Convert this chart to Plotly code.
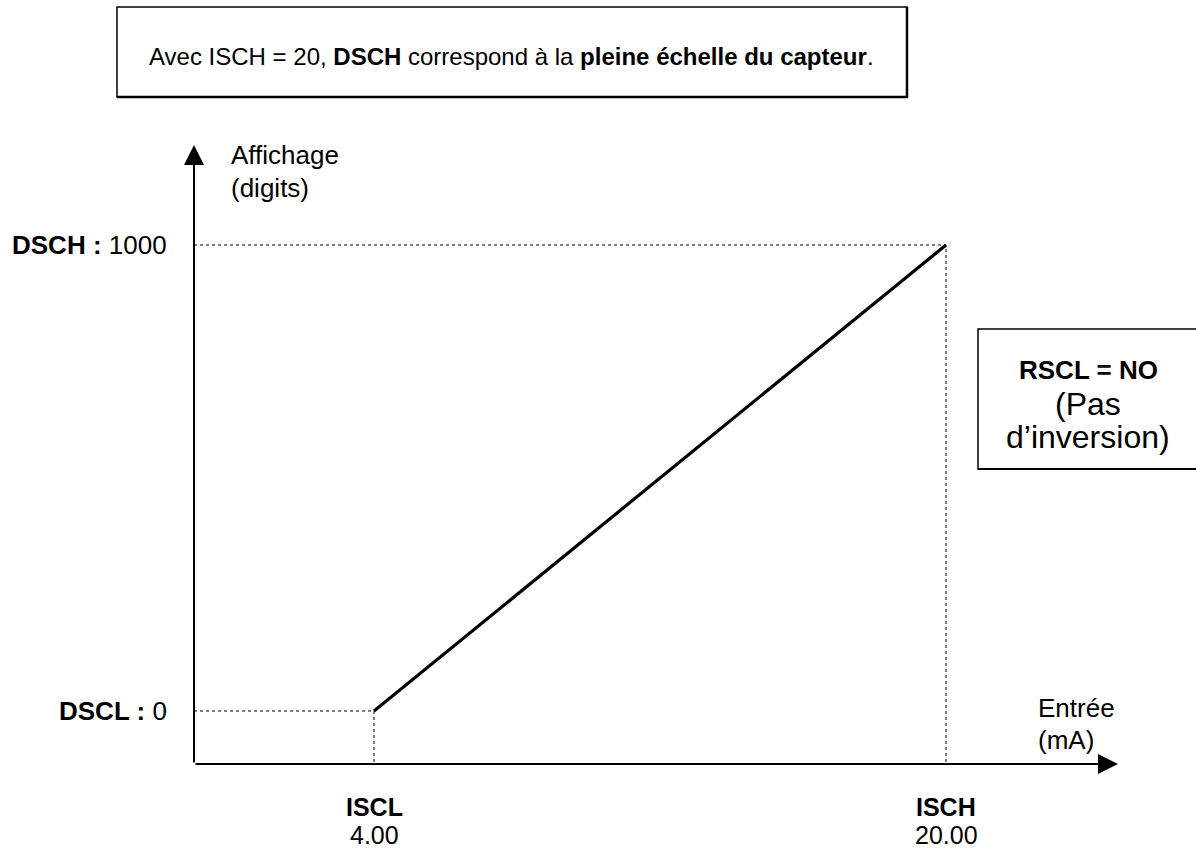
import plotly.graph_objects as go

# ---- data ----
input_ma = [4.00, 20.00]          # ISCL, ISCH (mA)
display_digits = [0, 1000]        # DSCL, DSCH (digits)
x_names = ["ISCL", "ISCH"]
x_values_txt = ["4.00", "20.00"]
y_names = ["DSCL", "DSCH"]
y_values_txt = ["0", "1000"]

W, H = 1196, 850
FONT = "Liberation Sans, Arial, sans-serif"

# pixel calibration of the data scale (plot area = whole figure)
PX_X4, PX_X20 = 374.0, 946.0
PX_Y0, PX_Y1000 = 711.0, 245.0
sx = (PX_X20 - PX_X4) / (input_ma[1] - input_ma[0])
sy = (PX_Y0 - PX_Y1000) / (display_digits[1] - display_digits[0])
x_range = [input_ma[0] - PX_X4 / sx, input_ma[0] + (W - PX_X4) / sx]
y_range = [display_digits[0] - (H - PX_Y0) / sy, display_digits[0] + PX_Y0 / sy]

def dx(px):
    return input_ma[0] + (px - PX_X4) / sx

def dy(py):
    return display_digits[0] + (PX_Y0 - py) / sy

def px(p):
    return p / W

def py(p):
    return 1 - p / H

x_orig, y_orig = dx(194), dy(764)
x_tip, y_tip = dx(1118), dy(145)

fig = go.Figure()

# dotted guides
for xv, yv in zip(input_ma, display_digits):
    fig.add_trace(go.Scatter(x=[x_orig, xv, xv], y=[yv, yv, y_orig], mode="lines",
                             line=dict(color="black", width=1, dash="dot"),
                             hoverinfo="skip", showlegend=False))

# transfer line
fig.add_trace(go.Scatter(x=input_ma, y=display_digits, mode="lines",
                         line=dict(color="black", width=3.2),
                         showlegend=False))

annotations = []
# axes with arrows
annotations.append(dict(x=x_orig, y=y_tip, ax=x_orig, ay=y_orig, xref="x", yref="y",
                        axref="x", ayref="y", showarrow=True, arrowhead=2, arrowsize=2,
                        arrowwidth=2, arrowcolor="black", text=""))
annotations.append(dict(x=x_tip, y=y_orig, ax=x_orig, ay=y_orig, xref="x", yref="y",
                        axref="x", ayref="y", showarrow=True, arrowhead=2, arrowsize=2,
                        arrowwidth=2, arrowcolor="black", text=""))

F = 26
# y labels
for name, txt, yv in zip(y_names, y_values_txt, display_digits):
    annotations.append(dict(x=px(169), y=yv, xref="paper", yref="y", xanchor="right",
                            yanchor="middle", showarrow=False,
                            text=f"<b>{name} :</b> {txt}",
                            font=dict(family=FONT, size=F, color="black")))
# x labels
for name, txt, xv in zip(x_names, x_values_txt, input_ma):
    annotations.append(dict(x=xv, y=py(807), xref="x", yref="paper", xanchor="center",
                            yanchor="middle", showarrow=False, text=f"<b>{name}</b>",
                            font=dict(family=FONT, size=25, color="black")))
    annotations.append(dict(x=xv, y=py(835), xref="x", yref="paper", xanchor="center",
                            yanchor="middle", showarrow=False, text=txt,
                            font=dict(family=FONT, size=25, color="black")))

# axis titles
for t, xx, yy in [("Affichage", 229, 155), ("(digits)", 229, 188),
                  ("Entrée", 1036, 708), ("(mA)", 1036, 740)]:
    annotations.append(dict(x=px(xx), y=py(yy), xref="paper", yref="paper", xanchor="left",
                            yanchor="middle", showarrow=False, text=t,
                            font=dict(family=FONT, size=F, color="black")))

# header box text
annotations.append(dict(x=px(511), y=py(57), xref="paper", yref="paper", xanchor="center",
                        yanchor="middle", showarrow=False,
                        text="Avec ISCH = 20, <b>DSCH</b> correspond à la <b>pleine échelle du capteur</b>.",
                        font=dict(family=FONT, size=24, color="black")))

# RSCL box text
annotations.append(dict(x=px(1088), y=py(370), xref="paper", yref="paper", xanchor="center",
                        yanchor="middle", showarrow=False, text="<b>RSCL = NO</b>",
                        font=dict(family=FONT, size=F, color="black")))
annotations.append(dict(x=px(1088), y=py(404), xref="paper", yref="paper", xanchor="center",
                        yanchor="middle", showarrow=False, text="(Pas",
                        font=dict(family=FONT, size=32, color="black")))
annotations.append(dict(x=px(1088), y=py(437), xref="paper", yref="paper", xanchor="center",
                        yanchor="middle", showarrow=False, text="d’inversion)",
                        font=dict(family=FONT, size=32, color="black")))

shapes = [
    dict(type="rect", xref="paper", yref="paper", x0=px(117), x1=px(907), y0=py(97), y1=py(7),
         line=dict(color="black", width=1.5)),
    dict(type="line", xref="paper", yref="paper", x0=px(117), x1=px(908), y0=py(97), y1=py(97),
         line=dict(color="black", width=2.5)),
    dict(type="line", xref="paper", yref="paper", x0=px(907), x1=px(907), y0=py(97), y1=py(7),
         line=dict(color="black", width=2.5)),
    dict(type="rect", xref="paper", yref="paper", x0=px(978), x1=px(1205), y0=py(469), y1=py(329),
         line=dict(color="black", width=1.5)),
    dict(type="line", xref="paper", yref="paper", x0=px(978), x1=px(1205), y0=py(469), y1=py(469),
         line=dict(color="black", width=2)),
]

fig.update_layout(
    width=W, height=H,
    margin=dict(l=0, r=0, t=0, b=0),
    paper_bgcolor="white", plot_bgcolor="white",
    xaxis=dict(range=x_range, visible=False, fixedrange=True),
    yaxis=dict(range=y_range, visible=False, fixedrange=True),
    annotations=annotations, shapes=shapes,
    showlegend=False,
)

fig.write_html("out.html", config={"displayModeBar": False},
               post_script="document.body.style.margin='0px';")
